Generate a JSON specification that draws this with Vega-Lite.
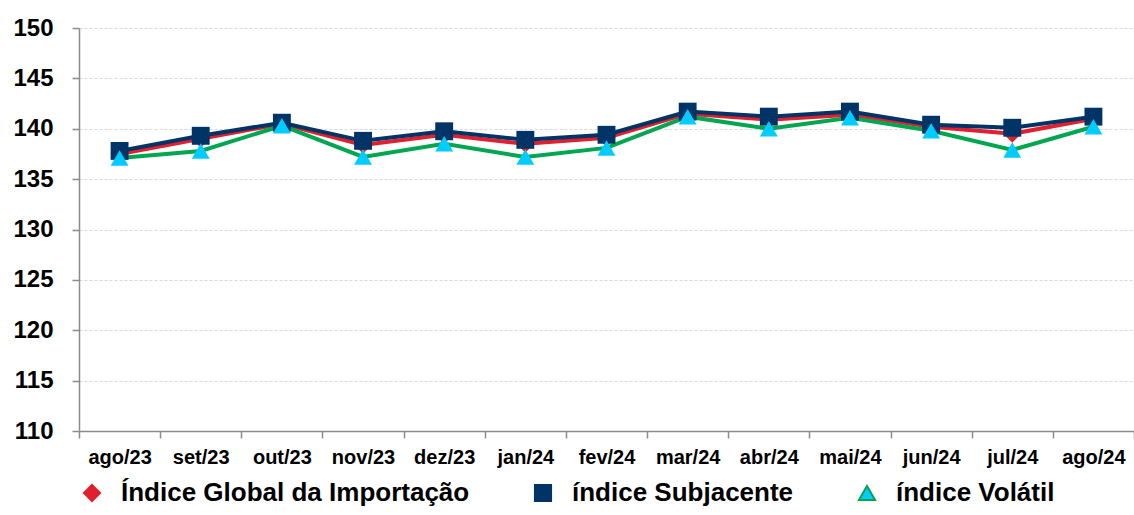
{
  "$schema": "https://vega.github.io/schema/vega-lite/v6.json",
  "width": 1055,
  "height": 403,
  "autosize": {"type": "none"},
  "padding": {"left": 79, "top": 28, "right": 0, "bottom": 84},
  "background": "white",
  "config": {"view": {"stroke": null}, "font": "Liberation Sans"},
  "data": {"values": [
    {"mes": "ago/23", "serie": "Índice Global da Importação", "valor": 137.5},
    {"mes": "set/23", "serie": "Índice Global da Importação", "valor": 139.0},
    {"mes": "out/23", "serie": "Índice Global da Importação", "valor": 140.5},
    {"mes": "nov/23", "serie": "Índice Global da Importação", "valor": 138.4},
    {"mes": "dez/23", "serie": "Índice Global da Importação", "valor": 139.4},
    {"mes": "jan/24", "serie": "Índice Global da Importação", "valor": 138.5},
    {"mes": "fev/24", "serie": "Índice Global da Importação", "valor": 139.1},
    {"mes": "mar/24", "serie": "Índice Global da Importação", "valor": 141.5},
    {"mes": "abr/24", "serie": "Índice Global da Importação", "valor": 140.9},
    {"mes": "mai/24", "serie": "Índice Global da Importação", "valor": 141.4},
    {"mes": "jun/24", "serie": "Índice Global da Importação", "valor": 140.2},
    {"mes": "jul/24", "serie": "Índice Global da Importação", "valor": 139.5},
    {"mes": "ago/24", "serie": "Índice Global da Importação", "valor": 141.0},
    {"mes": "ago/23", "serie": "índice Subjacente", "valor": 137.8},
    {"mes": "set/23", "serie": "índice Subjacente", "valor": 139.3},
    {"mes": "out/23", "serie": "índice Subjacente", "valor": 140.6},
    {"mes": "nov/23", "serie": "índice Subjacente", "valor": 138.8},
    {"mes": "dez/23", "serie": "índice Subjacente", "valor": 139.75},
    {"mes": "jan/24", "serie": "índice Subjacente", "valor": 138.9},
    {"mes": "fev/24", "serie": "índice Subjacente", "valor": 139.4},
    {"mes": "mar/24", "serie": "índice Subjacente", "valor": 141.7},
    {"mes": "abr/24", "serie": "índice Subjacente", "valor": 141.2},
    {"mes": "mai/24", "serie": "índice Subjacente", "valor": 141.7},
    {"mes": "jun/24", "serie": "índice Subjacente", "valor": 140.4},
    {"mes": "jul/24", "serie": "índice Subjacente", "valor": 140.1},
    {"mes": "ago/24", "serie": "índice Subjacente", "valor": 141.2},
    {"mes": "ago/23", "serie": "índice Volátil", "valor": 137.1},
    {"mes": "set/23", "serie": "índice Volátil", "valor": 137.8},
    {"mes": "out/23", "serie": "índice Volátil", "valor": 140.3},
    {"mes": "nov/23", "serie": "índice Volátil", "valor": 137.2},
    {"mes": "dez/23", "serie": "índice Volátil", "valor": 138.5},
    {"mes": "jan/24", "serie": "índice Volátil", "valor": 137.2},
    {"mes": "fev/24", "serie": "índice Volátil", "valor": 138.1},
    {"mes": "mar/24", "serie": "índice Volátil", "valor": 141.2},
    {"mes": "abr/24", "serie": "índice Volátil", "valor": 140.0},
    {"mes": "mai/24", "serie": "índice Volátil", "valor": 141.1},
    {"mes": "jun/24", "serie": "índice Volátil", "valor": 139.8},
    {"mes": "jul/24", "serie": "índice Volátil", "valor": 137.9},
    {"mes": "ago/24", "serie": "índice Volátil", "valor": 140.2}
  ]},
  "encoding": {
    "x": {
      "field": "mes", "type": "ordinal", "sort": null,
      "scale": {"type": "band", "paddingInner": 0, "paddingOuter": 0},
      "axis": {
        "title": null, "labelAngle": 0, "grid": false, "tickBand": "extent",
        "domainColor": "#8c8c8c", "domainWidth": 1.5,
        "tickColor": "#8c8c8c", "tickWidth": 1.5, "tickSize": 7,
        "labelFontSize": 20, "labelFontWeight": "bold", "labelColor": "black", "labelPadding": 9
      }
    },
    "y": {
      "field": "valor", "type": "quantitative",
      "scale": {"domain": [110, 150], "nice": false, "zero": false},
      "axis": {
        "title": null, "values": [110, 115, 120, 125, 130, 135, 140, 145, 150],
        "grid": true, "gridColor": "#d9d9d9", "gridDash": [3, 2], "gridWidth": 1,
        "domainColor": "#8c8c8c", "domainWidth": 1.5,
        "tickColor": "#8c8c8c", "tickWidth": 1.5, "tickSize": 7,
        "labelFontSize": 24, "labelFontWeight": "bold", "labelColor": "black", "labelPadding": 19
      }
    }
  },
  "layer": [
    {
      "mark": {"type": "line", "strokeWidth": 4},
      "encoding": {
        "stroke": {
          "field": "serie", "type": "nominal",
          "scale": {"domain": ["Índice Global da Importação", "índice Subjacente", "índice Volátil"], "range": ["#E0202E", "#003366", "#00A650"]}
        }
      }
    },
    {
      "mark": {"type": "point", "filled": true, "opacity": 1, "size": 320},
      "encoding": {
        "fill": {
          "field": "serie", "type": "nominal",
          "scale": {"domain": ["Índice Global da Importação", "índice Subjacente", "índice Volátil"], "range": ["#E0202E", "#003366", "#00CCFF"]},
          "legend": {
            "title": null, "orient": "bottom", "direction": "horizontal", "offset": 13,
            "labelFontSize": 26, "labelFontWeight": "bold", "labelColor": "black", "labelLimit": 0,
            "labelOffset": 16, "columnPadding": 60, "symbolSize": 260, "symbolStrokeWidth": 2
          }
        },
        "shape": {
          "field": "serie", "type": "nominal",
          "scale": {"domain": ["Índice Global da Importação", "índice Subjacente", "índice Volátil"], "range": ["diamond", "square", "triangle-up"]}
        }
      }
    }
  ]
}
